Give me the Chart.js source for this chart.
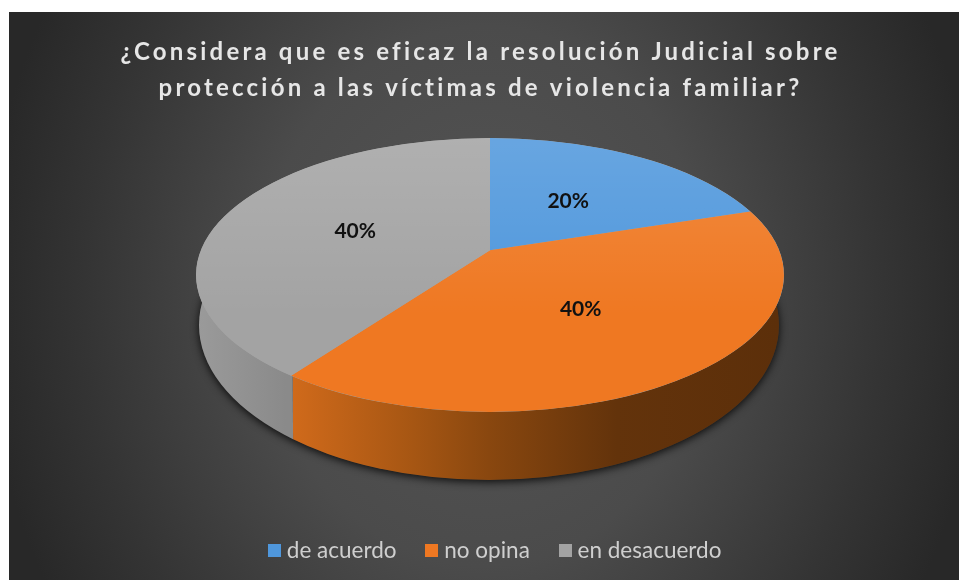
<!DOCTYPE html>
<html><head><meta charset="utf-8">
<style>html,body{margin:0;padding:0;background:#fff}canvas{display:block}</style>
<script src="https://cdn.jsdelivr.net/npm/chart.js@4"></script>
</head><body>
<div style="width:959px;height:580px"><canvas id="c" width="959" height="580"></canvas></div>
<script>
const titleLines = ['¿Considera que es eficaz la resolución Judicial sobre','protección a las víctimas de violencia familiar?'];
const categories = ['de acuerdo','no opina','en desacuerdo'];
const percentages = [20,40,40];
const sliceColors = ['#4f97dc','#ef7822','#a3a3a3'];

const FONT = 'Lato, Carlito, Calibri, sans-serif';
const TOP = {cx:490, cy:275, rx:294, ry:137};
const BASE = {cx:489, cy:325, rx:290, ry:155};
const TILT = -0.18;
const TAU = Math.PI*2;

function project(x,y){
  const d = 1+TILT*y;
  return {x:x*Math.sqrt(1-TILT*TILT)/d, y:(y+TILT)/d};
}
function toTop(p){return {x:TOP.cx+p.x*TOP.rx, y:TOP.cy+p.y*TOP.ry};}
function swatch(color){
  const c = document.createElement('canvas'); c.width=13; c.height=13;
  const x = c.getContext('2d'); x.fillStyle=color; x.fillRect(0,0,13,13);
  return c;
}

const pie3d = {
  id:'pie3d',
  beforeDraw(chart){
    const ctx = chart.ctx;
    ctx.save();
    ctx.fillStyle='#fff'; ctx.fillRect(0,0,959,580);
    ctx.beginPath(); ctx.rect(9,12,950,568); ctx.clip();
    ctx.translate(484,296); ctx.scale(1,1.2);
    const g = ctx.createRadialGradient(0,0,0,0,0,500);
    g.addColorStop(0,'#555555'); g.addColorStop(.45,'#4b4b4b'); g.addColorStop(.8,'#343434'); g.addColorStop(1,'#282828');
    ctx.fillStyle=g; ctx.fillRect(-600,-400,1200,800);
    ctx.restore();
    if(!chart.$wrapped){
      chart.$wrapped = true;
      const td = chart.titleBlock.draw.bind(chart.titleBlock);
      chart.titleBlock.draw = a => { ctx.save(); ctx.translate(1,0); ctx.letterSpacing='3.2px'; td(a); ctx.restore(); };
      const ld = chart.legend.draw.bind(chart.legend);
      chart.legend.draw = a => { ctx.save(); ctx.translate(18,-7); ld(a); ctx.restore(); };
    }
  },
  beforeDatasetDraw(chart,args){
    const ctx = chart.ctx;
    const arcs = chart.getDatasetMeta(args.index).data;
    ctx.save();
    ctx.shadowColor='rgba(0,0,0,.85)'; ctx.shadowBlur=9; ctx.shadowOffsetY=2;
    ctx.fillStyle='#333';
    ctx.beginPath(); ctx.ellipse(BASE.cx,BASE.cy,BASE.rx,BASE.ry,0,0,TAU); ctx.fill();
    ctx.restore();
    arcs.forEach((el,i)=>{
      const s = toTop(project(Math.cos(el.startAngle),Math.sin(el.startAngle)));
      const e = toTop(project(Math.cos(el.endAngle),Math.sin(el.endAngle)));
      const sa = el.startAngle+Math.PI/2, ea = el.endAngle+Math.PI/2;
      const right = sa<=Math.PI/2 ? 800 : s.x;
      const left  = ea>=Math.PI*1.5 ? 180 : e.x;
      if(sa>=Math.PI*1.5 || ea<=Math.PI/2 || right<=left) return;
      ctx.save();
      ctx.beginPath();
      ctx.moveTo(left===e.x?left+3:left,600); ctx.lineTo(left,100);
      ctx.lineTo(right,100); ctx.lineTo(right===s.x?right+3:right,600); ctx.closePath();
      ctx.clip();
      const g = ctx.createLinearGradient(BASE.cx-BASE.rx,0,BASE.cx+BASE.rx,0);
      if(i===1){
        g.addColorStop(.0,'#d56e1c'); g.addColorStop(.16,'#d06a1b');
        g.addColorStop(.37,'#a65613'); g.addColorStop(.5,'#89470f');
        g.addColorStop(.72,'#63330b'); g.addColorStop(1,'#5c2f0a');
      } else {
        g.addColorStop(0,'#9a9a9a'); g.addColorStop(.15,'#8a8a8a');
      }
      ctx.fillStyle=g;
      ctx.beginPath(); ctx.ellipse(BASE.cx,BASE.cy,BASE.rx,BASE.ry,0,0,TAU); ctx.fill();
      ctx.restore();
    });
    const apex = toTop(project(0,0));
    ctx.save();
    ctx.fillStyle='#a3a3a3';
    ctx.beginPath(); ctx.ellipse(TOP.cx,TOP.cy,TOP.rx,TOP.ry,0,0,TAU); ctx.fill();
    ctx.restore();
    arcs.forEach(el=>{
      const ps = project(Math.cos(el.startAngle),Math.sin(el.startAngle));
      const pe = project(Math.cos(el.endAngle),Math.sin(el.endAngle));
      const a0 = Math.atan2(ps.y,ps.x);
      let a1 = Math.atan2(pe.y,pe.x);
      while(a1<=a0) a1+=TAU;
      ctx.save();
      ctx.beginPath(); ctx.moveTo(apex.x,apex.y);
      ctx.ellipse(TOP.cx,TOP.cy,TOP.rx,TOP.ry,0,a0,a1); ctx.closePath();
      ctx.clip();
      ctx.translate(TOP.cx,TOP.cy);
      ctx.scale(TOP.rx/el.outerRadius,TOP.ry/el.outerRadius);
      ctx.translate(-el.x,-el.y);
      const keep = {startAngle:el.startAngle,endAngle:el.endAngle,circumference:el.circumference};
      el.startAngle=0; el.endAngle=TAU; el.circumference=TAU;
      el.draw(ctx);
      Object.assign(el,keep);
      ctx.restore();
    });
    ctx.save();
    ctx.beginPath(); ctx.ellipse(TOP.cx,TOP.cy,TOP.rx,TOP.ry,0,0,TAU); ctx.clip();
    const sh = ctx.createLinearGradient(0,TOP.cy-TOP.ry,0,TOP.cy+40);
    sh.addColorStop(0,'rgba(255,255,255,.14)'); sh.addColorStop(1,'rgba(255,255,255,0)');
    ctx.fillStyle=sh; ctx.fillRect(150,130,680,290);
    ctx.restore();
    ctx.save();
    ctx.font='bold 21px '+FONT; ctx.fillStyle='#111'; ctx.textAlign='center'; ctx.textBaseline='middle';
    arcs.forEach((el,i)=>{
      const c = el.getCenterPoint();
      const p = toTop(project((c.x-el.x)/el.outerRadius,(c.y-el.y)/el.outerRadius));
      ctx.fillText(percentages[i]+'%',p.x-1,p.y+1);
    });
    ctx.restore();
    return false;
  }
};

new Chart(document.getElementById('c').getContext('2d'),{
  type:'pie',
  data:{labels:categories,datasets:[{data:percentages,backgroundColor:sliceColors,borderWidth:0}]},
  plugins:[pie3d],
  options:{
    responsive:false,animation:false,
    layout:{padding:{top:35,bottom:1}},
    plugins:{
      tooltip:{enabled:false},
      title:{display:true,text:titleLines,color:'#e6e6e6',font:{family:FONT,size:24,weight:'bold',lineHeight:1.47},padding:{top:0,bottom:10}},
      legend:{position:'bottom',labels:{color:'#cfcfcf',font:{family:FONT,size:22.5},usePointStyle:true,boxWidth:2,boxHeight:13,padding:34.5,
        generateLabels(chart){
          return Chart.overrides.pie.plugins.legend.labels.generateLabels(chart)
            .map(item=>Object.assign(item,{pointStyle:swatch(item.fillStyle)}));
        }}}
    }
  }
});
</script>
</body></html>
